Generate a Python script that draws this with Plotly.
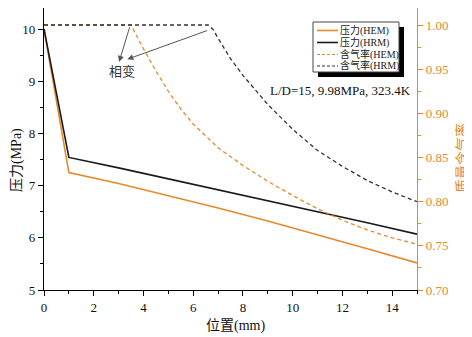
import plotly.graph_objects as go

# ---------------- data ----------------
pos_p = [0, 1, 3, 5, 7, 9, 11, 13, 15]
p_hem = [10.0, 7.25, 7.04, 6.81, 6.57, 6.32, 6.06, 5.79, 5.52]
p_hrm = [10.0, 7.54, 7.34, 7.13, 6.93, 6.72, 6.50, 6.29, 6.07]

pos_q_hem = [0, 3.5, 4.0, 4.5, 5.0, 5.5, 6.0, 6.5, 7.0, 8.0, 9.0, 10.0, 11.0, 12.0, 13.0, 14.0, 15.0]
q_hem = [1.0, 1.0, 0.973, 0.948, 0.925, 0.905, 0.888, 0.874, 0.861, 0.841, 0.823, 0.807, 0.792, 0.779, 0.768, 0.759, 0.752]

pos_q_hrm = [0, 6.6, 6.8, 7.0, 7.5, 8.0, 9.0, 10.0, 11.0, 12.0, 13.0, 14.0, 15.0]
q_hrm = [1.0, 1.0, 0.995, 0.985, 0.962, 0.943, 0.910, 0.882, 0.858, 0.840, 0.824, 0.811, 0.800]

names = ["压力(HEM)", "压力(HRM)", "含气率(HEM)", "含气率(HRM)"]

ORANGE = "#E5892C"
BLACK = "#1a1a1a"
FONT = "Liberation Serif, Noto Sans CJK SC"

OFF = 8  # page body margin
W, H = 464, 329
ML, MR, MT, MB = 36, 55, 0, 47
PW, PH = W - ML - MR, H - MT - MB


def px2paper(px, py):
    return (px - OFF - ML) / PW, (H - MB - (py - OFF)) / PH


# y ranges keep reference scale (52.2 px per MPa, 883 px per unit quality)
Y_TOP = 5 + PH / 52.2
Y2_TOP = 0.70 + PH / 883.3

fig = go.Figure()
fig.add_trace(go.Scatter(x=pos_p, y=p_hem, mode="lines", name=names[0],
                         line=dict(color=ORANGE, width=1.6), showlegend=False))
fig.add_trace(go.Scatter(x=pos_p, y=p_hrm, mode="lines", name=names[1],
                         line=dict(color=BLACK, width=1.6), showlegend=False))
fig.add_trace(go.Scatter(x=pos_q_hem, y=q_hem, mode="lines", name=names[2], yaxis="y2",
                         line=dict(color=ORANGE, width=1.3, dash="4px,3px"),
                         showlegend=False))
fig.add_trace(go.Scatter(x=pos_q_hrm, y=q_hrm, mode="lines", name=names[3], yaxis="y2",
                         line=dict(color="#333333", width=1.3, dash="4px,3px"),
                         showlegend=False))

shapes = []
annotations = []

# manual legend
lx0, ly0, lx1, ly1 = 313, 22, 399, 72
sx0, sy0 = px2paper(lx0 + 5, ly0 + 5)
sx1, sy1 = px2paper(lx1 + 5, ly1 + 5)
shapes.append(dict(type="rect", xref="paper", yref="paper", x0=sx0, y0=sy1, x1=sx1, y1=sy0,
                   fillcolor="black", line=dict(width=0), layer="above"))
bx0, by0 = px2paper(lx0, ly0)
bx1, by1 = px2paper(lx1, ly1)
shapes.append(dict(type="rect", xref="paper", yref="paper", x0=bx0, y0=by1, x1=bx1, y1=by0,
                   fillcolor="white", line=dict(color="#444444", width=1), layer="above"))
rows = [30.5, 42.5, 54.5, 66]
styles = [(ORANGE, "solid", 1.6), (BLACK, "solid", 1.6), (ORANGE, "3px,2px", 1.2), ("#333333", "3px,2px", 1.2)]
for nm, ry, (c, d, w) in zip(names, rows, styles):
    ax0, ay = px2paper(317, ry)
    ax1, _ = px2paper(338, ry)
    shapes.append(dict(type="line", xref="paper", yref="paper", x0=ax0, x1=ax1, y0=ay, y1=ay,
                       line=dict(color=c, dash=d, width=w), layer="above"))
    tx, _ = px2paper(338, ry)
    annotations.append(dict(xref="paper", yref="paper", x=tx, y=ay, text=nm, showarrow=False,
                            xanchor="left", yanchor="middle", font=dict(family=FONT, size=10, color="#222222")))

# phase change annotations
annotations.append(dict(x=3.12, y=9.18, xref="x", yref="y", text="相变", showarrow=False,
                        xanchor="center", yanchor="middle",
                        font=dict(family=FONT, size=13, color="#333333")))
annotations.append(dict(x=3.02, y=9.37, xref="x", yref="y", ax=3.46, ay=10.06, axref="x", ayref="y",
                        text="", showarrow=True, arrowhead=2, arrowsize=1.2, arrowwidth=1, arrowcolor="#555555"))
annotations.append(dict(x=3.35, y=9.42, xref="x", yref="y", ax=6.62, ay=9.98, axref="x", ayref="y",
                        text="", showarrow=True, arrowhead=2, arrowsize=1.2, arrowwidth=1, arrowcolor="#555555"))
annotations.append(dict(x=11.94, y=8.83, xref="x", yref="y", text="L/D=15, 9.98MPa, 323.4K",
                        xanchor="center", yanchor="middle",
                        showarrow=False, font=dict(family=FONT, size=13, color="#111111")))

# axis titles as annotations
tx, ty = px2paper(235, 326)
annotations.append(dict(xref="paper", yref="paper", x=tx, y=ty, text="位置(mm)", showarrow=False,
                        xanchor="center", yanchor="middle",
                        font=dict(family=FONT, size=14, color="#111111")))
tx, ty = px2paper(17, 160)
annotations.append(dict(xref="paper", yref="paper", x=tx, y=ty, text="压力(MPa)", showarrow=False,
                        xanchor="center", yanchor="middle",
                        textangle=-90, font=dict(family=FONT, size=14, color="#111111")))
tx, ty = px2paper(462, 158)
annotations.append(dict(xref="paper", yref="paper", x=tx, y=ty, text="质量含气率", showarrow=False,
                        xanchor="center", yanchor="middle",
                        textangle=-90, font=dict(family=FONT, size=14, color=ORANGE)))

fig.update_layout(
    width=W, height=H,
    margin=dict(l=ML, r=MR, t=MT, b=MB, pad=0),
    paper_bgcolor="white", plot_bgcolor="white",
    font=dict(family=FONT, size=13, color="#111111"),
    xaxis=dict(range=[0, 15], showgrid=False, zeroline=False, showline=True, linecolor="black", linewidth=1.2,
               automargin=False,
               ticks="outside", ticklen=5, tickwidth=1.2, tickcolor="black", dtick=2, tick0=0,
               minor=dict(dtick=1, tick0=0, ticks="outside", ticklen=3, tickcolor="black"),
               tickfont=dict(family=FONT, size=13)),
    yaxis=dict(range=[5, Y_TOP], showgrid=False, zeroline=False, showline=True, linecolor="black", linewidth=1.2,
               automargin=False,
               ticks="outside", ticklen=5, tickwidth=1.2, tickcolor="black", dtick=1, tick0=5,
               minor=dict(dtick=0.5, tick0=5, ticks="outside", ticklen=3, tickcolor="black"),
               tickfont=dict(family=FONT, size=13)),
    yaxis2=dict(range=[0.70, Y2_TOP], overlaying="y", side="right", showgrid=False, zeroline=False,
                automargin=False,
                showline=True, linecolor=ORANGE, linewidth=1.2,
                ticks="outside", ticklen=5, tickwidth=1.2, tickcolor=ORANGE, dtick=0.05, tick0=0.70,
                tickformat=".2f",
                minor=dict(dtick=0.025, tick0=0.70, ticks="outside", ticklen=3, tickcolor=ORANGE),
                tickfont=dict(family=FONT, size=13, color=ORANGE)),
    shapes=shapes,
    annotations=annotations,
    showlegend=False,
)

fig.write_html("out.html")
